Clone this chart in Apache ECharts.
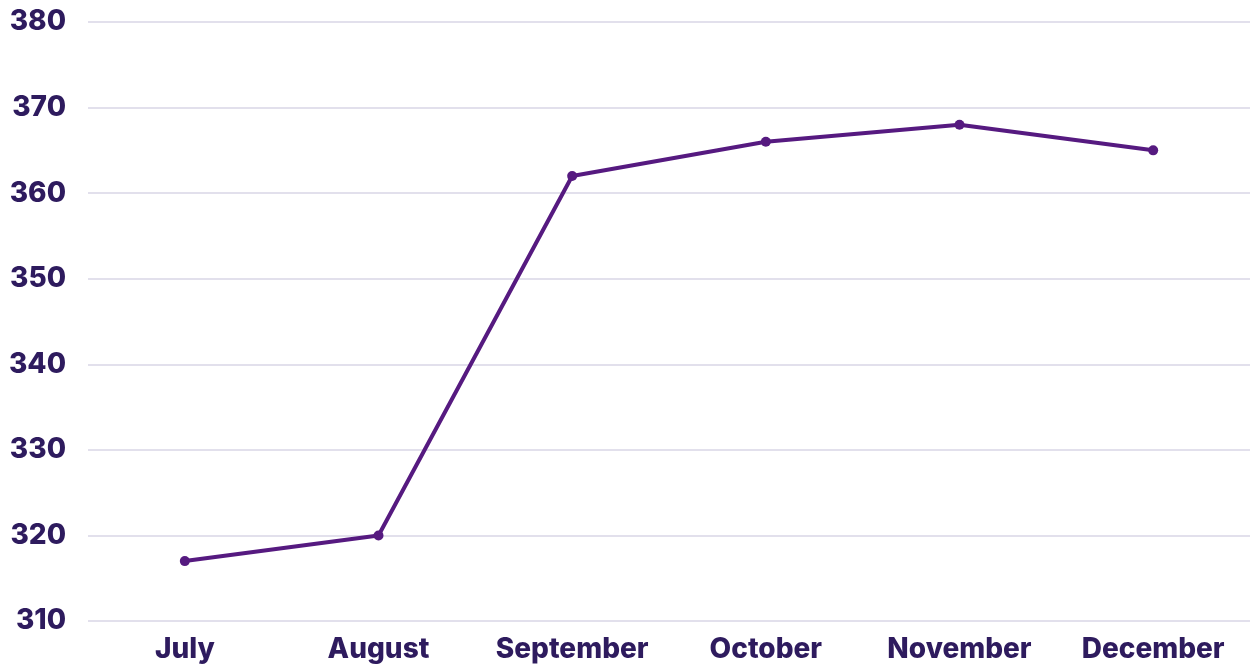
<!DOCTYPE html>
<html><head><meta charset="utf-8">
<script src="https://cdn.jsdelivr.net/npm/echarts@6/dist/echarts.min.js"></script>
<style>html,body{margin:0;padding:0;background:#fff}#c{width:1251px;height:664px}</style>
</head><body><div id="c"></div>
<script>
const categories = ["July","August","September","October","November","December"];
const values = [317, 320, 362, 366, 368, 365];
const yMin = 310, yMax = 380, yStep = 10;

const chart = echarts.init(document.getElementById('c'), null, {renderer:'canvas'});
const textColor = '#2e1b5e';
chart.setOption({
  animation:false,
  grid:{left:88,right:1,top:22,bottom:43,containLabel:false},
  xAxis:{type:'category',data:categories,boundaryGap:true,
    axisLine:{show:false},axisTick:{show:false},
    axisLabel:{interval:0,hideOverlap:false,color:textColor,fontFamily:'Inter',fontWeight:800,fontSize:28,margin:15}},
  yAxis:{type:'value',min:yMin,max:yMax,interval:yStep,
    axisLine:{show:false},axisTick:{show:false},
    splitLine:{lineStyle:{color:'#d9d6e6',width:1.5}},
    axisLabel:{color:textColor,fontFamily:'Inter',fontWeight:800,fontSize:28,margin:22,padding:[2,0,0,0]}},
  series:[{type:'line',data:values,symbol:'circle',symbolSize:10,
    lineStyle:{color:'#561a80',width:4},itemStyle:{color:'#561a80'}}]
});
</script></body></html>
